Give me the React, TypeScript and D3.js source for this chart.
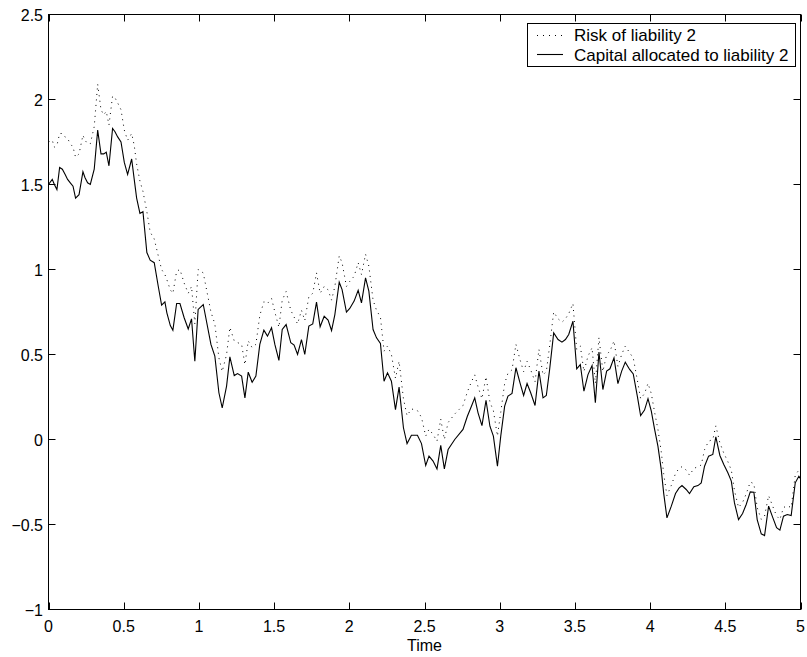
import React from "react";
import * as d3 from "d3";

const times = [
  0.000, 0.025, 0.039, 0.056, 0.074, 0.092, 0.110, 0.127, 0.145, 0.163, 0.180, 0.203, 0.229, 0.243, 0.260, 0.278, 0.304, 0.327, 0.349, 0.367,
  0.384, 0.402, 0.426, 0.442, 0.460, 0.482, 0.504, 0.526, 0.553, 0.570, 0.586, 0.608, 0.628, 0.654, 0.676, 0.703, 0.730, 0.752, 0.774, 0.787,
  0.810, 0.827, 0.852, 0.874, 0.902, 0.929, 0.951, 0.973, 0.995, 1.029, 1.080, 1.106, 1.133, 1.155, 1.184, 1.206, 1.235, 1.257, 1.284, 1.306,
  1.328, 1.354, 1.379, 1.405, 1.432, 1.456, 1.483, 1.505, 1.532, 1.554, 1.580, 1.611, 1.633, 1.656, 1.682, 1.704, 1.731, 1.757, 1.782, 1.806,
  1.833, 1.859, 1.882, 1.904, 1.933, 1.952, 1.981, 2.003, 2.032, 2.059, 2.081, 2.108, 2.130, 2.158, 2.181, 2.207, 2.231, 2.254, 2.280, 2.307,
  2.331, 2.360, 2.384, 2.413, 2.453, 2.480, 2.508, 2.530, 2.557, 2.583, 2.608, 2.632, 2.657, 2.701, 2.756, 2.785, 2.812, 2.834, 2.856, 2.882,
  2.909, 2.935, 2.958, 2.985, 3.007, 3.033, 3.055, 3.082, 3.108, 3.135, 3.159, 3.182, 3.206, 3.235, 3.261, 3.288, 3.310, 3.332, 3.359, 3.388,
  3.414, 3.437, 3.459, 3.487, 3.512, 3.536, 3.560, 3.587, 3.614, 3.636, 3.660, 3.686, 3.711, 3.733, 3.760, 3.786, 3.811, 3.835, 3.864, 3.888,
  3.915, 3.937, 3.963, 3.986, 4.008, 4.030, 4.052, 4.074, 4.090, 4.112, 4.141, 4.169, 4.192, 4.212, 4.240, 4.262, 4.291, 4.318, 4.340, 4.362,
  4.389, 4.417, 4.437, 4.464, 4.490, 4.517, 4.540, 4.561, 4.588, 4.615, 4.639, 4.666, 4.690, 4.712, 4.739, 4.761, 4.788, 4.814, 4.841, 4.863,
  4.887, 4.912, 4.938, 4.965, 4.989, 5.000,
];

const capital = [
  1.50, 1.53, 1.50, 1.47, 1.60, 1.59, 1.56, 1.53, 1.51, 1.49, 1.42, 1.44, 1.575, 1.54, 1.51, 1.50, 1.59, 1.82, 1.68, 1.68,
  1.69, 1.61, 1.83, 1.81, 1.78, 1.75, 1.63, 1.56, 1.65, 1.53, 1.42, 1.33, 1.34, 1.10, 1.055, 1.04, 0.90, 0.79, 0.81, 0.745,
  0.67, 0.643, 0.80, 0.80, 0.716, 0.65, 0.71, 0.46, 0.765, 0.794, 0.559, 0.49, 0.275, 0.186, 0.314, 0.486, 0.376, 0.388, 0.373, 0.245,
  0.396, 0.337, 0.373, 0.559, 0.643, 0.608, 0.657, 0.559, 0.465, 0.647, 0.676, 0.569, 0.555, 0.50, 0.588, 0.50, 0.667, 0.68, 0.808, 0.663,
  0.725, 0.702, 0.641, 0.735, 0.925, 0.882, 0.749, 0.771, 0.814, 0.878, 0.804, 0.951, 0.873, 0.647, 0.598, 0.565, 0.343, 0.392, 0.343, 0.176,
  0.308, 0.069, -0.024, 0.025, 0.025, -0.024, -0.153, -0.098, -0.127, -0.173, -0.035, -0.173, -0.059, 0.0, 0.059, 0.137, 0.196, 0.245, 0.157, 0.082,
  0.231, 0.078, 0.02, -0.157, 0.02, 0.196, 0.255, 0.271, 0.422, 0.333, 0.259, 0.329, 0.275, 0.20, 0.402, 0.245, 0.259, 0.412, 0.627, 0.588,
  0.573, 0.588, 0.618, 0.696, 0.416, 0.441, 0.284, 0.382, 0.435, 0.216, 0.514, 0.294, 0.402, 0.416, 0.48, 0.329, 0.402, 0.455, 0.412, 0.386,
  0.255, 0.141, 0.173, 0.240, 0.167, 0.059, -0.039, -0.176, -0.314, -0.461, -0.392, -0.318, -0.286, -0.271, -0.294, -0.318, -0.278, -0.271, -0.255, -0.157,
  -0.098, -0.088, 0.016, -0.094, -0.147, -0.196, -0.245, -0.373, -0.471, -0.435, -0.382, -0.308, -0.31, -0.471, -0.555, -0.565, -0.392, -0.455, -0.519, -0.533,
  -0.451, -0.441, -0.447, -0.255, -0.216, -0.23,
];

const risk = [
  1.75, 1.76, 1.72, 1.73, 1.80, 1.80, 1.78, 1.77, 1.74, 1.72, 1.66, 1.68, 1.79, 1.76, 1.74, 1.74, 1.84, 2.09, 1.94, 1.91,
  1.93, 1.85, 2.02, 2.01, 1.98, 1.94, 1.82, 1.76, 1.80, 1.73, 1.62, 1.52, 1.46, 1.34, 1.22, 1.18, 1.08, 1.00, 0.97, 0.94,
  0.88, 0.86, 0.99, 1.00, 0.92, 0.86, 0.90, 0.68, 1.00, 0.98, 0.75, 0.68, 0.48, 0.40, 0.50, 0.66, 0.58, 0.57, 0.56, 0.44,
  0.58, 0.54, 0.56, 0.73, 0.81, 0.80, 0.83, 0.75, 0.66, 0.82, 0.87, 0.76, 0.72, 0.68, 0.76, 0.70, 0.84, 0.86, 0.98, 0.86,
  0.90, 0.88, 0.82, 0.90, 1.08, 1.04, 0.90, 0.93, 0.96, 1.04, 0.97, 1.09, 1.02, 0.82, 0.76, 0.72, 0.52, 0.55, 0.50, 0.36,
  0.46, 0.24, 0.14, 0.18, 0.17, 0.13, 0.02, 0.06, 0.03, -0.01, 0.12, 0.0, 0.10, 0.15, 0.20, 0.28, 0.34, 0.38, 0.31, 0.24,
  0.37, 0.22, 0.17, 0.02, 0.16, 0.33, 0.39, 0.41, 0.56, 0.47, 0.40, 0.46, 0.41, 0.34, 0.53, 0.38, 0.40, 0.55, 0.75, 0.71,
  0.69, 0.71, 0.74, 0.80, 0.53, 0.55, 0.40, 0.49, 0.54, 0.33, 0.60, 0.40, 0.50, 0.52, 0.58, 0.43, 0.50, 0.55, 0.51, 0.48,
  0.35, 0.24, 0.27, 0.33, 0.27, 0.16, 0.06, -0.07, -0.20, -0.33, -0.27, -0.20, -0.17, -0.16, -0.18, -0.21, -0.17, -0.16, -0.15, -0.06,
  -0.01, 0.00, 0.08, -0.02, -0.08, -0.13, -0.18, -0.30, -0.40, -0.37, -0.32, -0.25, -0.26, -0.40, -0.47, -0.45, -0.33, -0.39, -0.45, -0.47,
  -0.40, -0.39, -0.40, -0.21, -0.18, -0.19,
];

const xTicks = [0, 0.5, 1, 1.5, 2, 2.5, 3, 3.5, 4, 4.5, 5];
const yTicks = [-1, -0.5, 0, 0.5, 1, 1.5, 2, 2.5];
const seriesNames = ["Risk of liability 2", "Capital allocated to liability 2"];
const xLabel = "Time";

const W = 807;
const H = 657;
const FONT = "'Liberation Sans', Arial, Helvetica, sans-serif";

export default function App() {
  const x = d3.scaleLinear().domain([0, 5]).range([48.5, 800.5]);
  const y = d3.scaleLinear().domain([-1, 2.5]).range([609.5, 14.5]);
  const idx = d3.range(times.length);
  const lineC = d3.line<number>().x((i) => x(times[i])).y((i) => y(capital[i]));
  const lineR = d3.line<number>().x((i) => x(times[i])).y((i) => y(risk[i]));
  const fmt = (v: number) => (v < 0 ? "\u2212" + String(-v) : String(v));
  const [x0, x1] = x.range();
  const [yb, yt] = y.range();
  const tl = 7;
  const lx = 527, ly = 23, lw = 268, lh = 43;

  return (
    <svg width={W} height={H} style={{ position: "absolute", left: 0, top: 0, background: "#fff" }}>
      <rect x={0} y={0} width={W} height={H} fill="#fff" />
      <defs>
        <clipPath id="clip">
          <rect x={x0} y={yt} width={x1 - x0} height={yb - yt} />
        </clipPath>
      </defs>
      <g clipPath="url(#clip)">
        <path d={lineR(idx) || ""} fill="none" stroke="#000" strokeWidth={1} strokeDasharray="1,4.5" />
        <path d={lineC(idx) || ""} fill="none" stroke="#000" strokeWidth={1.1} />
      </g>
      <rect x={x0} y={yt} width={x1 - x0} height={yb - yt} fill="none" stroke="#000" strokeWidth={1} />
      {xTicks.map((t) => (
        <g key={"x" + t}>
          <line x1={Math.round(x(t)) + 0.5} x2={Math.round(x(t)) + 0.5} y1={yb} y2={yb - tl} stroke="#000" />
          <line x1={Math.round(x(t)) + 0.5} x2={Math.round(x(t)) + 0.5} y1={yt} y2={yt + tl} stroke="#000" />
          <text x={x(t)} y={632} textAnchor="middle" fontFamily={FONT} fontSize={16}>
            {fmt(t)}
          </text>
        </g>
      ))}
      {yTicks.map((t) => (
        <g key={"y" + t}>
          <line x1={x0} x2={x0 + tl} y1={y(t)} y2={y(t)} stroke="#000" />
          <line x1={x1} x2={x1 - tl} y1={y(t)} y2={y(t)} stroke="#000" />
          <text x={43} y={y(t) + 6} textAnchor="end" fontFamily={FONT} fontSize={16}>
            {fmt(t)}
          </text>
        </g>
      ))}
      <text x={(x0 + x1) / 2} y={651} textAnchor="middle" fontFamily={FONT} fontSize={16}>
        {xLabel}
      </text>
      <rect x={lx + 0.5} y={ly + 0.5} width={lw} height={lh} fill="#fff" stroke="#000" strokeWidth={1} />
      <line x1={537} x2={563} y1={ly + 12.5} y2={ly + 12.5} stroke="#000" strokeDasharray="1,5" />
      <text x={574} y={ly + 17.5} fontFamily={FONT} fontSize={17}>
        {seriesNames[0]}
      </text>
      <line x1={537} x2={563} y1={ly + 31.5} y2={ly + 31.5} stroke="#000" strokeWidth={1.1} />
      <text x={574} y={ly + 37.5} fontFamily={FONT} fontSize={17}>
        {seriesNames[1]}
      </text>
    </svg>
  );
}
